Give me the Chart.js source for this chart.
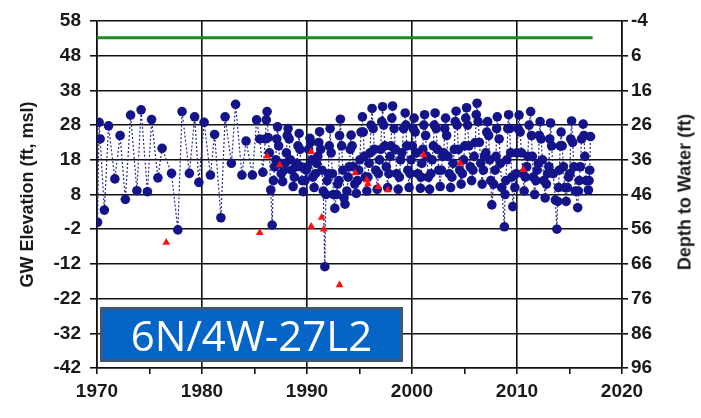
<!DOCTYPE html>
<html>
<head>
<meta charset="utf-8">
<script src="https://cdn.jsdelivr.net/npm/chart.js@4.4.1/dist/chart.umd.min.js"></script>
<style>
  body { margin: 0; background: #fff; }
  #wrap { position: relative; width: 701px; height: 418px; }
  #wellLabel {
    position: absolute; left: 100px; top: 307px; width: 297px; height: 49px;
    background: #0565c6; border: 3px solid #3d5878; color: #fff;
    font-family: "Open Sans", "Noto Sans", sans-serif; font-size: 42px;
    line-height: 49px; text-align: center;
  }
  #rightTitle {
    position: absolute; left: 685px; top: 192px; white-space: nowrap;
    transform: translate(-50%, -50%) rotate(-90deg);
    font: bold 18px "Liberation Sans", Arial, sans-serif; color: #1a1a1a;
  }
</style>
</head>
<body>
<div id="wrap">
  <canvas id="hydrograph"></canvas>
  <div id="wellLabel">6N/4W-27L2</div>
  <div id="rightTitle">Depth to Water (ft)</div>
</div>
<script>
// measured GW elevation (ft, msl), blue
const measYears = [
  1970.05, 1970.2, 1970.3, 1970.7, 1971.1, 1971.7, 1972.2, 1972.7, 1973.2, 1973.8,
  1974.2, 1974.8, 1975.2, 1975.8, 1976.2, 1977.1, 1977.7, 1978.1, 1978.8, 1979.3,
  1979.7, 1980.2, 1980.8, 1981.2, 1981.8, 1982.2, 1982.8, 1983.2, 1983.8, 1984.2,
  1984.8, 1985.2, 1985.5, 1985.8,
  1986.03, 1986.12, 1986.2, 1986.3, 1986.42, 1986.55, 1986.68, 1986.8, 1986.92,
  1987.03, 1987.12, 1987.2, 1987.3, 1987.42, 1987.55, 1987.68, 1987.8, 1987.92,
  1988.03, 1988.12, 1988.2, 1988.3, 1988.42, 1988.55, 1988.68, 1988.8, 1988.92,
  1989.03, 1989.14, 1989.25, 1989.33, 1989.42, 1989.55, 1989.65, 1989.8, 1989.92,
  1990.03, 1990.15, 1990.28, 1990.35, 1990.45, 1990.55, 1990.68, 1990.8, 1990.92,
  1991.03, 1991.12, 1991.2, 1991.3, 1991.42, 1991.55, 1991.7, 1991.8, 1991.92,
  1992.03, 1992.12, 1992.2, 1992.3, 1992.42, 1992.52, 1992.65, 1992.8, 1992.92,
  1993.03, 1993.1, 1993.18, 1993.3, 1993.42, 1993.52, 1993.62, 1993.8, 1993.92,
  1994.03, 1994.12, 1994.2, 1994.3, 1994.42, 1994.55, 1994.7, 1994.8, 1994.92,
  1995.03, 1995.15, 1995.28, 1995.36, 1995.45, 1995.55, 1995.7, 1995.8, 1995.92,
  1996.0, 1996.1, 1996.2, 1996.3, 1996.42, 1996.55, 1996.68, 1996.8, 1996.92,
  1997.03, 1997.12, 1997.2, 1997.3, 1997.42, 1997.55, 1997.68, 1997.8, 1997.92,
  1998.0, 1998.08, 1998.15, 1998.3, 1998.42, 1998.55, 1998.68, 1998.8, 1998.92,
  1999.03, 1999.2, 1999.35, 1999.42, 1999.5, 1999.6, 1999.72, 1999.82, 1999.92,
  2000.03, 2000.12, 2000.2, 2000.3, 2000.42, 2000.55, 2000.8, 2000.86, 2000.94,
  2001.03, 2001.12, 2001.2, 2001.3, 2001.42, 2001.55, 2001.68, 2001.8, 2001.92,
  2002.03, 2002.12, 2002.2, 2002.3, 2002.42, 2002.55, 2002.68, 2002.8, 2002.92,
  2003.03, 2003.12, 2003.2, 2003.3, 2003.42, 2003.55, 2003.68, 2003.8, 2003.92,
  2004.03, 2004.12, 2004.2, 2004.3, 2004.42, 2004.55, 2004.68, 2004.8, 2004.92,
  2005.03, 2005.12, 2005.2, 2005.3, 2005.42, 2005.55, 2005.68, 2005.8, 2005.92,
  2006.03, 2006.12, 2006.2, 2006.3, 2006.42, 2006.55, 2006.68, 2006.8, 2006.92,
  2007.03, 2007.12, 2007.2, 2007.3, 2007.4, 2007.5, 2007.6, 2007.78, 2007.92,
  2008.0, 2008.06, 2008.12, 2008.3, 2008.42, 2008.55, 2008.8, 2008.86, 2008.94,
  2009.03, 2009.12, 2009.2, 2009.3, 2009.4, 2009.5, 2009.6, 2009.8, 2009.92,
  2010.0, 2010.1, 2010.2, 2010.3, 2010.42, 2010.55, 2010.68, 2010.8, 2010.92,
  2011.03, 2011.15, 2011.3, 2011.38, 2011.46, 2011.55, 2011.68, 2011.8, 2011.92,
  2012.03, 2012.12, 2012.2, 2012.3, 2012.42, 2012.55, 2012.68, 2012.8, 2012.92,
  2013.03, 2013.12, 2013.2, 2013.3, 2013.45, 2013.65, 2013.8, 2013.88, 2013.95,
  2014.03, 2014.12, 2014.2, 2014.3, 2014.42, 2014.55, 2014.68, 2014.8, 2014.92,
  2015.03, 2015.12, 2015.2, 2015.3, 2015.42, 2015.55, 2015.78, 2015.85, 2015.92,
  2016.03, 2016.15, 2016.3, 2016.38, 2016.46, 2016.6, 2016.8, 2016.86, 2016.93,
  2017.0
];
const measElev = [
  0, 28.8, 24, 3.5, 27.8, 12.5, 25, 6.6, 30.9, 9.1,
  32.4, 8.8, 29.6, 12.8, 21.3, 14.1, -2.2, 31.9, 14.1, 30.4,
  11.5, 28.8, 13.6, 25.3, 1.3, 30.4, 17, 34, 13.6, 23.4,
  13.6, 29.5, 24, 14.4,
  24, 29.5, 31.9, 24.4, 20, 9.3, -0.8, 12, 16,
  18, 24, 27.5, 22, 17, 14, 11.7, 15, 17,
  20, 25, 27, 24, 18, 15, 10.3, 13, 16,
  17, 22, 25.6, 21, 16, 12, 8.8, 12, 15,
  16, 21, 24.2, 23, 18, 13, 10, 14, 17,
  19, 23, 26.1, 21, 15, 9, -12.8, 8, 12,
  14, 22, 27, 20, 14, 8, 4, 8, 11,
  12, 25, 29.7, 22, 15, 7, 5.2, 9, 13,
  16, 21, 25.1, 22, 16, 11, 8.3, 12, 15,
  18, 26, 30.4, 26, 19, 13, 9, 13, 17,
  20, 28, 32.8, 27, 21, 15, 9.5, 14, 18,
  21, 29, 33.3, 28, 22, 16, 10, 14, 19,
  22, 30, 33.5, 27, 21, 14, 9.5, 13, 18,
  20, 27, 31.5, 28, 22, 15, 10, 14, 18,
  22, 27, 30, 26, 20, 14, 9.8, 13, 17,
  21, 28, 31, 25, 19, 13, 9.5, 14, 18,
  22, 28, 31.5, 27, 21, 15, 10.3, 15, 19,
  20, 27, 30, 25, 19, 14, 10, 13, 17,
  21, 29, 32, 28, 21, 15, 11, 14, 18,
  22, 30, 33, 28, 22, 16, 12, 15, 19,
  23, 31, 34.3, 29, 23, 17, 11, 15, 19,
  20, 26, 29, 25, 18, 12, 5, 11, 15,
  19, 27, 30.4, 24, 17, 10, -1.3, 8, 12,
  18, 27, 31, 27, 20, 13, 4.5, 10, 14,
  20, 27, 30.9, 26, 20, 14, 9, 13, 16,
  19, 28, 31.9, 25, 19, 13, 8, 12, 15,
  17, 25, 29, 24, 18, 12, 7, 11, 14,
  16, 24, 28.6, 22, 14, 6.4, -2, 6, 10,
  15, 22, 26, 22, 16, 10, 6, 10, 13,
  14, 24, 29.2, 23, 16, 9, 4.2, 9, 12,
  16, 24, 28.3, 25, 19, 12, 9.3, 12, 15,
  24.7
];
// questionable measurements, red triangles
const qmYears = [1976.6, 1985.5, 1986.2, 1987.4, 1990.4, 1990.4, 1991.4, 1991.6, 1993.1,
  1994.6, 1995.7, 1995.8, 1996.8, 1997.7, 2001.1, 2004.6, 2010.6];
const qmElev = [-5.8, -3, 19, 16.5, 20.3, -1.2, 1.4, -2, -18.1,
  14.2, 12.2, 11, 10.2, 9.3, 19.4, 17, 15.1];
// ground surface elevation, green
const groundYears = [1970, 2017.2];
const groundElev = [53.2, 53.2];

const leftTicks = { min: -42, max: 58, step: 10 };
const rightTicks = { min: -4, max: 96, step: 10 };
const yearTicks = { min: 1970, max: 2020, step: 5 };

const pts = (xs, ys) => xs.map((x, i) => ({ x: x, y: ys[i] }));
const tickFont = { family: "'Liberation Sans', Arial, sans-serif", size: 19, weight: 'bold' };
const titleFont = { family: "'Liberation Sans', Arial, sans-serif", size: 18, weight: 'bold' };

const hydrograph = new Chart(document.getElementById("hydrograph"), {
  type: "line",
  data: {
    datasets: [
      {
        data: pts(groundYears, groundElev),
        borderColor: '#1f8a1f',
        borderWidth: 3,
        pointRadius: 0,
      },
      {
        data: pts(qmYears, qmElev),
        showLine: false,
        pointStyle: 'triangle',
        pointRadius: 4.5,
        pointBackgroundColor: '#ff1010',
        pointBorderColor: '#ff1010',
        pointBorderWidth: 0,
      },
      {
        data: pts(measYears, measElev),
        borderColor: '#2a2a8a',
        borderWidth: 1.2,
        borderDash: [2, 2],
        tension: 0,
        pointRadius: 4.8,
        pointBackgroundColor: '#14148a',
        pointBorderColor: '#14148a',
        pointBorderWidth: 0,
      },
    ],
  },
  options: {
    responsive: true,
    maintainAspectRatio: false,
    animation: false,
    layout: { padding: { top: 21, right: 0, left: 0, bottom: 0 } },
    plugins: { legend: { display: false }, tooltip: { enabled: false } },
    scales: {
      x: {
        type: 'linear',
        min: yearTicks.min, max: yearTicks.max,
        afterFit: (s) => { s.height = 50; },
        ticks: {
          stepSize: yearTicks.step,
          padding: 6,
          color: '#1a1a1a',
          font: tickFont,
          maxRotation: 0,
          autoSkip: false,
          callback: (v) => (v % 10 === 0 ? String(v) : ''),
        },
        grid: {
          color: (c) => (c.tick && c.tick.value % 10 === 0 ? '#111' : 'transparent'),
          tickColor: '#111',
          tickLength: 6,
          lineWidth: 1.6,
        },
        border: { color: '#111', width: 1.6 },
      },
      y: {
        position: 'left',
        min: leftTicks.min, max: leftTicks.max,
        afterFit: (s) => { s.width = 97; },
        ticks: { stepSize: leftTicks.step, padding: 9, color: '#1a1a1a', font: tickFont },
        grid: { color: '#111', tickColor: '#111', tickLength: 7, lineWidth: 1.6 },
        border: { color: '#111', width: 1.6 },
        title: { display: true, text: 'GW Elevation (ft, msl)', color: '#1a1a1a', font: titleFont, padding: { top: 17, bottom: 0 } },
      },
      y2: {
        position: 'right',
        reverse: true,
        min: rightTicks.min, max: rightTicks.max,
        afterFit: (s) => { s.width = 79; },
        ticks: { stepSize: rightTicks.step, padding: 3, color: '#1a1a1a', font: tickFont },
        grid: { drawOnChartArea: false, tickColor: '#111', tickLength: 6, lineWidth: 1.6 },
        border: { color: '#111', width: 1.6 },
      },
    },
  },
});
</script>
</body>
</html>
